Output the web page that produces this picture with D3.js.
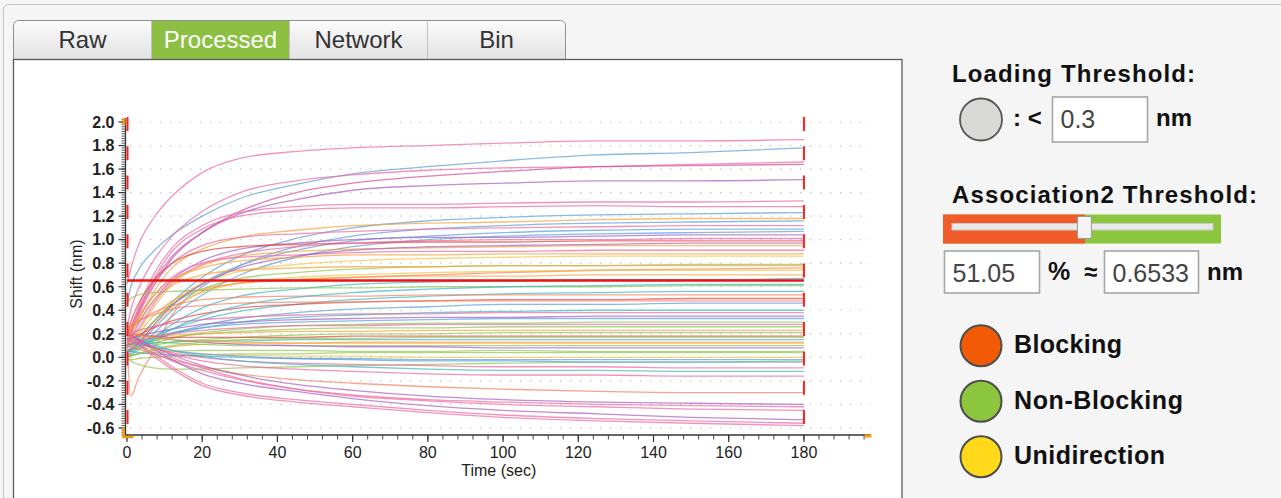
<!DOCTYPE html>
<html><head><meta charset="utf-8">
<script src="https://cdn.jsdelivr.net/npm/d3@7"></script>
<style>
html,body{margin:0;padding:0;background:#f5f5f5;overflow:hidden}
svg{display:block}
text{font-family:"Liberation Sans",Arial,Helvetica,sans-serif}
</style>
</head><body>
<svg id="chart" width="1281" height="498"></svg>
<script>
// ---------------- data ----------------
const times = [0, 1, 3, 7, 12, 20, 30, 45, 60, 80, 100, 125, 150, 180];
const xTicks = [0, 20, 40, 60, 80, 100, 120, 140, 160, 180];
const yTicks = [-0.6, -0.4, -0.2, 0.0, 0.2, 0.4, 0.6, 0.8, 1.0, 1.2, 1.4, 1.6, 1.8, 2.0];
const tabLabels = ["Raw", "Processed", "Network", "Bin"];
const activeTab = "Processed";
const thresholdNm = 0.6533;
const thresholdPct = "51.05";
const loadingThreshold = "0.3";
const assocEnd = 180;
const legendLabels = ["Blocking", "Non-Blocking", "Unidirection"];
const legendColors = ["#f25a05", "#8cc63f", "#ffd91a"];

const palette = {
  pink: "#ee6a9f", blue: "#5a9fdc", purple: "#a85fc2", magenta: "#d9489a",
  orange: "#f8a23a", yellow: "#f5c447", green: "#8fc853", teal: "#3fb5c6",
  red: "#e9453f", salmon: "#f4825f"
};

const seriesColors = [
  "pink","blue","pink","magenta","purple","pink","pink","blue","orange","blue",
  "pink","blue","blue","purple","red","salmon","orange","pink","yellow","green",
  "orange","yellow","orange","teal","green","teal","salmon","red","blue","teal",
  "pink","purple","blue","green","green","orange","green","red","teal","orange",
  "green","purple","green","green","yellow","blue","green","blue","pink","teal",
  "pink","salmon","purple","pink","pink","purple","pink","pink","pink","purple",
  "orange","teal","salmon","pink","green","orange"
];

const seriesValues = [
  [0.62, 0.75, 0.95, 1.18, 1.37, 1.57, 1.69, 1.75, 1.78, 1.80, 1.82, 1.84, 1.84, 1.85],
  [0.45, 0.60, 0.74, 0.90, 1.04, 1.20, 1.35, 1.47, 1.56, 1.62, 1.67, 1.72, 1.74, 1.78],
  [0.25, 0.40, 0.58, 0.82, 1.03, 1.24, 1.40, 1.50, 1.55, 1.59, 1.61, 1.62, 1.64, 1.66],
  [0.10, 0.20, 0.36, 0.60, 0.84, 1.06, 1.24, 1.40, 1.48, 1.54, 1.58, 1.62, 1.63, 1.64],
  [0.15, 0.25, 0.40, 0.64, 0.86, 1.06, 1.22, 1.34, 1.42, 1.46, 1.48, 1.50, 1.50, 1.51],
  [0.15, 0.25, 0.42, 0.70, 0.93, 1.12, 1.23, 1.28, 1.30, 1.30, 1.31, 1.32, 1.32, 1.33],
  [0.10, 0.20, 0.38, 0.66, 0.90, 1.09, 1.20, 1.25, 1.27, 1.27, 1.28, 1.29, 1.28, 1.28],
  [0.05, 0.09, 0.16, 0.30, 0.47, 0.68, 0.86, 1.01, 1.10, 1.16, 1.19, 1.21, 1.22, 1.23],
  [0.10, 0.18, 0.32, 0.55, 0.76, 0.92, 1.02, 1.08, 1.12, 1.14, 1.15, 1.17, 1.18, 1.18],
  [0.02, 0.05, 0.11, 0.24, 0.40, 0.60, 0.78, 0.94, 1.03, 1.09, 1.12, 1.14, 1.15, 1.16],
  [0.12, 0.22, 0.38, 0.62, 0.80, 0.95, 1.02, 1.05, 1.07, 1.09, 1.10, 1.11, 1.12, 1.12],
  [0.08, 0.11, 0.17, 0.30, 0.45, 0.63, 0.78, 0.91, 0.99, 1.03, 1.06, 1.08, 1.09, 1.09],
  [0.00, 0.03, 0.08, 0.20, 0.35, 0.53, 0.70, 0.85, 0.94, 1.00, 1.03, 1.05, 1.06, 1.07],
  [0.08, 0.15, 0.28, 0.48, 0.66, 0.82, 0.92, 0.97, 1.00, 1.02, 1.02, 1.03, 1.04, 1.04],
  [0.18, 0.30, 0.45, 0.65, 0.80, 0.90, 0.94, 0.96, 0.97, 0.98, 0.98, 0.99, 0.99, 0.99],
  [0.10, -0.33, -0.18, 0.05, 0.36, 0.56, 0.63, 0.66, 0.68, 0.70, 0.72, 0.74, 0.75, 0.76],
  [0.08, 0.13, 0.22, 0.42, 0.62, 0.78, 0.86, 0.90, 0.92, 0.93, 0.94, 0.95, 0.95, 0.95],
  [0.18, 0.24, 0.33, 0.52, 0.68, 0.80, 0.85, 0.87, 0.89, 0.90, 0.90, 0.91, 0.91, 0.91],
  [0.05, 0.08, 0.14, 0.30, 0.47, 0.63, 0.73, 0.79, 0.82, 0.84, 0.85, 0.86, 0.86, 0.86],
  [0.10, 0.12, 0.17, 0.30, 0.45, 0.58, 0.67, 0.72, 0.75, 0.77, 0.78, 0.78, 0.79, 0.79],
  [0.15, 0.20, 0.30, 0.48, 0.61, 0.70, 0.74, 0.76, 0.77, 0.77, 0.78, 0.78, 0.78, 0.78],
  [0.05, 0.07, 0.12, 0.26, 0.42, 0.55, 0.63, 0.68, 0.70, 0.72, 0.73, 0.74, 0.74, 0.74],
  [0.10, 0.13, 0.20, 0.35, 0.48, 0.58, 0.63, 0.66, 0.68, 0.69, 0.69, 0.70, 0.70, 0.70],
  [0.00, 0.02, 0.06, 0.16, 0.28, 0.42, 0.52, 0.58, 0.62, 0.64, 0.65, 0.66, 0.66, 0.67],
  [0.45, 0.50, 0.53, 0.55, 0.56, 0.57, 0.58, 0.59, 0.59, 0.60, 0.60, 0.60, 0.61, 0.61],
  [0.10, 0.11, 0.13, 0.18, 0.24, 0.32, 0.39, 0.45, 0.49, 0.52, 0.54, 0.55, 0.56, 0.56],
  [0.20, 0.24, 0.30, 0.38, 0.44, 0.49, 0.51, 0.52, 0.52, 0.53, 0.53, 0.53, 0.53, 0.53],
  [0.15, 0.16, 0.19, 0.25, 0.31, 0.37, 0.42, 0.45, 0.47, 0.48, 0.49, 0.49, 0.50, 0.50],
  [0.05, 0.06, 0.09, 0.14, 0.20, 0.27, 0.33, 0.38, 0.41, 0.43, 0.45, 0.45, 0.46, 0.46],
  [0.10, 0.11, 0.12, 0.16, 0.20, 0.25, 0.30, 0.34, 0.36, 0.38, 0.39, 0.40, 0.40, 0.40],
  [0.20, 0.21, 0.23, 0.26, 0.29, 0.32, 0.34, 0.36, 0.37, 0.37, 0.38, 0.38, 0.38, 0.38],
  [0.15, 0.16, 0.18, 0.21, 0.24, 0.28, 0.30, 0.32, 0.33, 0.34, 0.34, 0.35, 0.35, 0.35],
  [0.10, 0.11, 0.13, 0.17, 0.21, 0.25, 0.28, 0.30, 0.31, 0.32, 0.33, 0.33, 0.33, 0.33],
  [0.05, 0.06, 0.08, 0.12, 0.16, 0.21, 0.24, 0.27, 0.28, 0.29, 0.29, 0.30, 0.30, 0.30],
  [0.10, 0.10, 0.12, 0.14, 0.17, 0.20, 0.22, 0.24, 0.25, 0.25, 0.26, 0.26, 0.26, 0.26],
  [0.15, 0.15, 0.16, 0.18, 0.19, 0.20, 0.21, 0.22, 0.22, 0.23, 0.23, 0.23, 0.23, 0.23],
  [0.05, 0.05, 0.07, 0.10, 0.13, 0.15, 0.17, 0.19, 0.20, 0.20, 0.21, 0.21, 0.21, 0.21],
  [0.20, 0.20, 0.19, 0.18, 0.17, 0.17, 0.17, 0.17, 0.18, 0.18, 0.18, 0.18, 0.18, 0.18],
  [0.10, 0.10, 0.11, 0.12, 0.13, 0.14, 0.14, 0.15, 0.15, 0.15, 0.15, 0.15, 0.15, 0.15],
  [0.00, 0.01, 0.03, 0.06, 0.09, 0.11, 0.12, 0.12, 0.13, 0.13, 0.13, 0.13, 0.13, 0.13],
  [0.15, 0.15, 0.14, 0.13, 0.12, 0.11, 0.10, 0.10, 0.10, 0.10, 0.10, 0.10, 0.10, 0.10],
  [0.20, 0.20, 0.19, 0.17, 0.15, 0.13, 0.11, 0.10, 0.09, 0.09, 0.08, 0.08, 0.08, 0.08],
  [0.02, 0.02, 0.03, 0.04, 0.05, 0.06, 0.06, 0.06, 0.05, 0.05, 0.06, 0.05, 0.05, 0.05],
  [-0.02, -0.02, -0.01, 0.00, 0.01, 0.02, 0.03, 0.03, 0.04, 0.04, 0.04, 0.04, 0.04, 0.04],
  [0.10, 0.10, 0.09, 0.07, 0.05, 0.03, 0.02, 0.01, 0.01, 0.00, 0.00, 0.00, 0.00, 0.00],
  [0.05, 0.05, 0.04, 0.03, 0.02, 0.01, 0.00, -0.01, -0.01, -0.02, -0.02, -0.02, -0.02, -0.02],
  [0.00, -0.03, -0.06, -0.09, -0.10, -0.10, -0.09, -0.08, -0.07, -0.06, -0.05, -0.04, -0.04, -0.03],
  [0.15, 0.14, 0.12, 0.09, 0.06, 0.03, 0.01, -0.01, -0.02, -0.03, -0.03, -0.04, -0.04, -0.04],
  [0.15, 0.14, 0.12, 0.08, 0.04, 0.00, -0.03, -0.05, -0.06, -0.07, -0.08, -0.08, -0.09, -0.09],
  [0.20, 0.19, 0.16, 0.11, 0.06, 0.01, -0.03, -0.06, -0.08, -0.10, -0.11, -0.11, -0.12, -0.12],
  [0.20, 0.19, 0.15, 0.09, 0.03, -0.03, -0.07, -0.10, -0.12, -0.14, -0.15, -0.15, -0.16, -0.16],
  [0.10, 0.09, 0.07, 0.03, -0.02, -0.08, -0.14, -0.19, -0.22, -0.25, -0.27, -0.29, -0.30, -0.30],
  [0.20, 0.19, 0.15, 0.09, 0.02, -0.07, -0.15, -0.23, -0.28, -0.33, -0.36, -0.38, -0.39, -0.40],
  [0.15, 0.14, 0.10, 0.04, -0.03, -0.11, -0.19, -0.27, -0.32, -0.36, -0.38, -0.40, -0.41, -0.42],
  [0.20, 0.19, 0.15, 0.08, 0.00, -0.09, -0.18, -0.27, -0.33, -0.37, -0.40, -0.42, -0.44, -0.45],
  [0.20, 0.19, 0.14, 0.07, -0.02, -0.14, -0.22, -0.29, -0.35, -0.41, -0.45, -0.48, -0.51, -0.53],
  [0.20, 0.18, 0.12, 0.03, -0.08, -0.22, -0.30, -0.36, -0.40, -0.45, -0.49, -0.52, -0.54, -0.56],
  [0.20, 0.18, 0.11, 0.01, -0.10, -0.24, -0.32, -0.38, -0.42, -0.47, -0.51, -0.54, -0.56, -0.58],
  [0.10, 0.15, 0.24, 0.45, 0.64, 0.79, 0.88, 0.94, 0.97, 0.99, 1.00, 1.00, 1.01, 1.01],
  [0.05, 0.07, 0.12, 0.27, 0.44, 0.62, 0.76, 0.86, 0.91, 0.94, 0.95, 0.96, 0.97, 0.97],
  [0.20, 0.25, 0.35, 0.52, 0.66, 0.76, 0.82, 0.85, 0.87, 0.87, 0.88, 0.88, 0.88, 0.88],
  [0.05, 0.06, 0.09, 0.15, 0.24, 0.35, 0.44, 0.51, 0.55, 0.58, 0.60, 0.61, 0.62, 0.62],
  [0.25, 0.27, 0.31, 0.36, 0.41, 0.44, 0.46, 0.47, 0.47, 0.48, 0.48, 0.48, 0.48, 0.48],
  [0.10, 0.11, 0.13, 0.17, 0.20, 0.23, 0.25, 0.27, 0.27, 0.28, 0.28, 0.28, 0.28, 0.28],
  [0.00, 0.01, 0.03, 0.07, 0.10, 0.13, 0.15, 0.16, 0.16, 0.17, 0.17, 0.17, 0.17, 0.17],
  [0.20, 0.20, 0.19, 0.17, 0.15, 0.14, 0.13, 0.12, 0.12, 0.12, 0.12, 0.12, 0.12, 0.12]
];

// ---------------- layout ----------------
const svg = d3.select("#chart");
const defs = svg.append("defs");
const grad = defs.append("linearGradient").attr("id", "tabGrad").attr("x1", 0).attr("y1", 0).attr("x2", 0).attr("y2", 1);
grad.append("stop").attr("offset", "0%").attr("stop-color", "#fbfbfb");
grad.append("stop").attr("offset", "100%").attr("stop-color", "#dedede");

// outer frame
svg.append("rect").attr("x", 3.5).attr("y", 4.5).attr("width", 1300).attr("height", 520)
  .attr("rx", 5).attr("fill", "#f5f5f5").attr("stroke", "#c4c4c4");

// tabs
const tabX = d3.scaleBand().domain(tabLabels).range([13.5, 565.5]);
const tabTop = 20.5, tabBottom = 59.5;
svg.append("rect").attr("x", tabX.range()[0]).attr("y", tabTop)
  .attr("width", tabX.range()[1] - tabX.range()[0]).attr("height", tabBottom - tabTop + 6)
  .attr("rx", 5).attr("fill", "url(#tabGrad)").attr("stroke", "#8f8f8f");
tabLabels.forEach((lab, i) => {
  const x0 = tabX(lab);
  if (lab === activeTab) {
    svg.append("rect").attr("x", x0).attr("y", tabTop + 0.5).attr("width", tabX.bandwidth())
      .attr("height", tabBottom - tabTop).attr("fill", "#8cbf42");
  }
  if (i > 0) {
    svg.append("line").attr("x1", x0).attr("x2", x0).attr("y1", tabTop + 1).attr("y2", tabBottom)
      .attr("stroke", "#c2c2c2");
  }
  svg.append("text").attr("x", x0 + tabX.bandwidth() / 2).attr("y", 48)
    .attr("text-anchor", "middle").attr("font-size", 24)
    .attr("fill", lab === activeTab ? "#ffffff" : "#333333").text(lab);
});

// chart panel
svg.append("rect").attr("x", 13.5).attr("y", 59.5).attr("width", 888.5).attr("height", 460)
  .attr("fill", "#ffffff").attr("stroke", "#5a5a5a").attr("stroke-width", 1.3);

// scales
const x = d3.scaleLinear().domain([0, 197.7]).range([127, 870.5]);
const y = d3.scaleLinear().domain([-0.66, 2.034]).range([435, 118]);
const axisX0 = x(0) - 1.5;

// dotted grid
svg.append("g").selectAll("line").data(yTicks).join("line")
  .attr("x1", x(0) + 3).attr("x2", x.range()[1])
  .attr("y1", d => y(d)).attr("y2", d => y(d))
  .attr("stroke", "#c4c4c4").attr("stroke-width", 1.2).attr("stroke-dasharray", "1.3,8.7");

// series
const line = d3.line().x((d, i) => x(times[i])).y(d => y(d)).curve(d3.curveMonotoneX);
svg.append("g").selectAll("path").data(seriesValues).join("path")
  .attr("d", line).attr("fill", "none")
  .attr("stroke", (d, i) => palette[seriesColors[i]])
  .attr("stroke-width", 1.3).attr("stroke-opacity", 0.72);

// threshold line
svg.append("line").attr("x1", x(0)).attr("x2", x(assocEnd))
  .attr("y1", y(thresholdNm)).attr("y2", y(thresholdNm))
  .attr("stroke", "#ee1111").attr("stroke-width", 2.6);

// dashed step markers
[0, assocEnd].forEach(t => {
  svg.append("line").attr("x1", x(t) + (t === 0 ? 0.5 : 0)).attr("x2", x(t) + (t === 0 ? 0.5 : 0))
    .attr("y1", 117).attr("y2", 435)
    .attr("stroke", "#ff1f1f").attr("stroke-width", 2).attr("stroke-dasharray", "14,15.3");
});

// axes
const gy = svg.append("g").attr("transform", `translate(${axisX0},0)`);
gy.append("line").attr("y1", y.range()[1]).attr("y2", y.range()[0]).attr("stroke", "#333").attr("stroke-width", 1.3);
const minorY = d3.range(-0.66, 2.035, 0.02);
gy.selectAll("line.minor").data(minorY).join("line").attr("class", "minor")
  .attr("x1", -4).attr("x2", 0).attr("y1", d => y(d)).attr("y2", d => y(d))
  .attr("stroke", "#444").attr("stroke-width", 0.9);
gy.selectAll("line.major").data(yTicks).join("line").attr("class", "major")
  .attr("x1", -7).attr("x2", 0).attr("y1", d => y(d)).attr("y2", d => y(d))
  .attr("stroke", "#333").attr("stroke-width", 1.2);
gy.selectAll("text").data(yTicks).join("text")
  .attr("x", -11).attr("y", d => y(d) + 5.8).attr("text-anchor", "end")
  .attr("font-size", 16).attr("font-weight", "bold").attr("fill", "#222")
  .text(d => d3.format(".1f")(d).replace("−", "-"));

const gx = svg.append("g").attr("transform", `translate(0,435)`);
gx.append("line").attr("x1", axisX0).attr("x2", x.range()[1]).attr("stroke", "#333").attr("stroke-width", 1.3);
const minorX = d3.range(0, 197, 4);
gx.selectAll("line.minor").data(minorX).join("line").attr("class", "minor")
  .attr("x1", d => x(d)).attr("x2", d => x(d)).attr("y1", 0).attr("y2", 4.5)
  .attr("stroke", "#444").attr("stroke-width", 1);
gx.selectAll("line.major").data(xTicks).join("line").attr("class", "major")
  .attr("x1", d => x(d)).attr("x2", d => x(d)).attr("y1", 0).attr("y2", 7)
  .attr("stroke", "#333").attr("stroke-width", 1.2);
gx.selectAll("text").data(xTicks).join("text")
  .attr("x", d => x(d)).attr("y", 22.5).attr("text-anchor", "middle")
  .attr("font-size", 16).attr("fill", "#222").text(d => d);

// range handles (orange)
const handle = "#f39a12";
svg.append("rect").attr("x", axisX0 - 3).attr("y", y.range()[1]).attr("width", 3).attr("height", 7).attr("fill", handle);
svg.append("path").attr("d", `M${axisX0 - 2},${427} V${437} H${axisX0 + 8}`).attr("fill", "none").attr("stroke", handle).attr("stroke-width", 2.5);
svg.append("rect").attr("x", x.range()[1] - 6).attr("y", 434.5).attr("width", 7).attr("height", 3).attr("fill", handle);

// axis titles
svg.append("text").attr("x", (x(0) + x.range()[1]) / 2).attr("y", 475.5).attr("text-anchor", "middle")
  .attr("font-size", 16).attr("fill", "#222").text("Time (sec)");
svg.append("text").attr("transform", "translate(82,274) rotate(-90)").attr("text-anchor", "middle")
  .attr("font-size", 16).attr("fill", "#222").text("Shift (nm)");

// ---------------- right panel ----------------
const bold = (t, xx, yy, size, len) => {
  const el = svg.append("text").attr("x", xx).attr("y", yy).attr("font-size", size)
    .attr("font-weight", "bold").attr("fill", "#111").text(t);
  if (len) el.attr("textLength", len).attr("lengthAdjust", "spacing");
  return el;
};
const box = (xx, yy, w, h, val) => {
  svg.append("rect").attr("x", xx).attr("y", yy).attr("width", w).attr("height", h)
    .attr("fill", "#fff").attr("stroke", "#a6a6a6").attr("stroke-width", 1.6);
  svg.append("text").attr("x", xx + 8).attr("y", yy + 31).attr("font-size", 25).attr("fill", "#444").text(val);
};

bold("Loading Threshold:", 952, 82, 24, 243);
svg.append("circle").attr("cx", 981).attr("cy", 119.5).attr("r", 21)
  .attr("fill", "#d9d9d7").attr("stroke", "#555").attr("stroke-width", 1.8);
bold(": <", 1013, 126, 24);
box(1052.5, 97, 95, 45, loadingThreshold);
bold("nm", 1156, 126, 24, 36);

bold("Association2 Threshold:", 952, 203, 24, 305);
const slider = d3.scaleLinear().domain([0, 100]).range([943, 1221]);
svg.append("rect").attr("x", slider(0)).attr("y", 214.5).attr("width", slider(100) - slider(0)).attr("height", 29).attr("fill", "#8cc63f");
svg.append("rect").attr("x", slider(0)).attr("y", 214.5).attr("width", slider(+thresholdPct) - slider(0)).attr("height", 29).attr("fill", "#f15a29");
svg.append("rect").attr("x", 952).attr("y", 223.5).attr("width", 261).attr("height", 6.5)
  .attr("fill", "#e8e8e8").attr("stroke", "#c9c9c9");
svg.append("rect").attr("x", slider(+thresholdPct) - 7.5).attr("y", 216.5).attr("width", 14).attr("height", 22).attr("rx", 1.5)
  .attr("fill", "#f3f3f3").attr("stroke", "#9a9a9a");

box(944.5, 251, 95, 42, thresholdPct);
bold("%", 1048, 280, 25);
bold("≈", 1084, 280, 24);
box(1104.5, 251, 94, 42, String(thresholdNm));
bold("nm", 1207, 280, 24, 36);

legendLabels.forEach((lab, i) => {
  const cy = 345.7 + i * 55.5;
  svg.append("circle").attr("cx", 981).attr("cy", cy).attr("r", 20.5)
    .attr("fill", legendColors[i]).attr("stroke", "#4d4d4d").attr("stroke-width", 2);
  bold(lab, 1014, cy + 7.5, 25, [108, 169, 151][i]);
});
</script>
</body></html>
